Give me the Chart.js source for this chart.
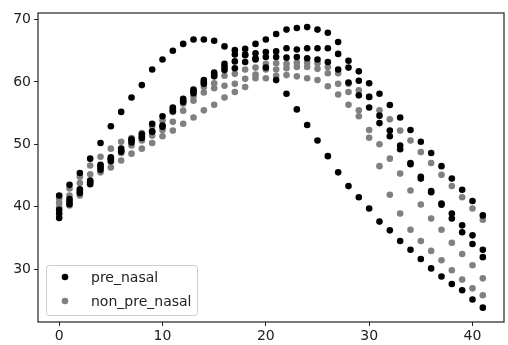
<!DOCTYPE html>
<html lang="en">
<head>
    <meta charset="UTF-8">
    <title>pre_nasal vs non_pre_nasal</title>
    <script src="https://cdn.jsdelivr.net/npm/chart.js"></script>
    <style>
        body {
            margin: 0;
            background-color: #FFFFFF;
        }

        #wrap {
            position: relative;
            width: 508px;
            height: 345px;
        }
    </style>
</head>
<body>
    <div id="wrap"><canvas id="chart"></canvas></div>

    <script>
        // time frames (x) and axis ticks
        const frames = [0, 1, 2, 3, 4, 5, 6, 7, 8, 9, 10, 11, 12, 13, 14, 15, 16, 17, 18, 19, 20,
            21, 22, 23, 24, 25, 26, 27, 28, 29, 30, 31, 32, 33, 34, 35, 36, 37, 38, 39, 40, 41];
        const xTicks = [0, 10, 20, 30, 40];
        const yTicks = [30, 40, 50, 60, 70];
        const seriesLabels = ['pre_nasal', 'non_pre_nasal'];

        // pre_nasal tracks
        const preNasalA = [41.8, 43.5, 45.4, 47.7, 50.2, 52.9, 55.2, 57.5, 59.5, 62.0,
            63.6, 65.0, 66.1, 66.8, 66.8, 66.6, 65.7, 65.1, 64.4, 63.6,
            62.3, 60.3, 58.1, 55.6, 53.1, 50.6, 48.1, 45.5, 43.3, 41.5,
            39.7, 37.6, 36.2, 34.5, 33.1, 31.6, 30.1, 28.8, 27.6, 26.6,
            25.1, 23.8];
        const preNasalB = [39.5, 41.2, 42.8, 44.2, 46.7, 47.9, 49.3, 50.8, 51.6, 53.3,
            54.5, 55.9, 57.3, 58.8, 60.3, 61.5, 62.9, 64.4, 65.3, 66.1,
            66.8, 67.7, 68.4, 68.65, 68.8, 68.4, 67.9, 66.4, 63.4, 61.7,
            59.8, 58.1, 56.3, 54.3, 52.3, 50.4, 48.6, 46.5, 44.5, 42.7,
            40.9, 38.6];
        const preNasalC = [38.9, 40.8, 42.4, 43.9, 46.3, 47.6, 49.0, 50.6, 51.2, 52.1,
            53.0, 55.6, 57.0, 58.5, 60.0, 61.2, 62.4, 63.3, 64.3, 64.6,
            64.8, 64.9, 65.4, 65.2, 65.4, 65.4, 65.4, 64.5, 62.3, 60.2,
            57.6, 54.6, 52.2, 49.8, 47.0, 44.8, 42.5, 40.5, 38.9, 37.0,
            35.4, 33.1];
        const preNasalD = [38.2, 40.4, 42.2, 43.6, 45.9, 47.3, 48.8, 50.3, 51.0, 52.0,
            52.8, 55.3, 56.8, 58.2, 59.7, 60.9, 61.9, 62.2, 63.2, 63.8,
            64.0, 64.0, 63.9, 64.0, 63.8, 63.6, 63.2, 62.0, 59.9, 57.85,
            55.9, 53.4, 51.3, 49.2, 46.8, 44.5, 42.3, 40.3, 38.1, 35.9,
            34.0, 31.9];

        // non_pre_nasal tracks
        const nonPreNasalB = [41.3, 42.9, 44.8, 46.6, 48.0, 49.3, 50.4, 51.0, 51.8, 52.9,
            53.8, 55.2, 56.5, 57.7, 59.2, 59.8, 61.0, 61.3, 62.0, 62.3,
            62.9, 63.0, 62.9, 63.1, 63.1, 63.0, 62.4, 61.4, 59.7, 58.65,
            57.6, 55.45, 54.0, 52.2, 50.6, 48.75, 47.0, 45.1, 43.3, 41.5,
            39.7, 37.9];
        const nonPreNasalC = [40.6, 41.8, 43.8, 45.2, 46.6, 47.7, 48.6, 49.8, 50.6, 51.4,
            52.3, 53.6, 55.4, 57.0, 58.3, 59.0, 59.4, 59.7, 60.5, 61.2,
            62.0, 62.0, 62.2, 62.4, 62.4, 62.1, 61.4, 59.7, 58.4, 55.45,
            52.3, 50.0, 47.7, 45.3, 42.6, 40.35, 38.1, 36.3, 34.2, 32.4,
            30.6, 28.5];
        const nonPreNasalD = [39.9, 40.2, 41.8, 44.0, 45.5, 46.3, 47.4, 48.5, 49.3, 50.2,
            51.3, 52.2, 53.3, 54.3, 55.45, 56.35, 57.5, 58.4, 59.2, 60.6,
            60.6, 61.0, 61.1, 60.9, 60.6, 60.3, 59.3, 58.0, 56.35, 54.5,
            51.05, 46.5, 41.9, 38.9, 36.3, 34.5, 32.9, 31.4, 29.8, 28.3,
            26.9, 25.8];

        function toPoints(tracks) {
            const pts = [];
            tracks.forEach(track => {
                track.forEach((v, i) => pts.push({ x: frames[i], y: v }));
            });
            return pts;
        }

        const FONT = { family: 'DejaVu Sans', size: 14 };
        const INK = '#222222';

        // box around the axes + legend in the lower left corner
        const frameAndLegend = {
            id: 'frameAndLegend',
            afterDatasetsDraw(chart) {
                const { ctx, chartArea: a } = chart;
                ctx.save();
                ctx.strokeStyle = INK;
                ctx.lineWidth = 1.2;
                ctx.strokeRect(a.left, a.top, a.right - a.left, a.bottom - a.top);

                const bx = a.left + 8, bw = 151, bh = 50;
                const by = a.bottom - 7 - bh;
                ctx.beginPath();
                ctx.roundRect(bx + 0.5, by + 0.5, bw, bh, 3);
                ctx.fillStyle = 'rgba(255,255,255,0.8)';
                ctx.fill();
                ctx.strokeStyle = '#CCCCCC';
                ctx.lineWidth = 1;
                ctx.stroke();

                ctx.font = `${FONT.size}px ${FONT.family}`;
                ctx.textBaseline = 'middle';
                chart.data.datasets.forEach((ds, i) => {
                    const y = by + 12 + i * 24;
                    ctx.beginPath();
                    ctx.arc(bx + 19, y, 3.3, 0, Math.PI * 2);
                    ctx.fillStyle = ds.backgroundColor;
                    ctx.fill();
                    ctx.fillStyle = INK;
                    ctx.fillText(ds.label, bx + 45, y + 1);
                });
                ctx.restore();
            }
        };

        new Chart(document.getElementById('chart'), {
            type: 'scatter',
            data: {
                datasets: [{
                    label: seriesLabels[0],
                    data: toPoints([preNasalA, preNasalB, preNasalC, preNasalD]),
                    backgroundColor: '#000000',
                    borderWidth: 0,
                    pointRadius: 3.3
                }, {
                    label: seriesLabels[1],
                    data: toPoints([nonPreNasalB, nonPreNasalC, nonPreNasalD]),
                    backgroundColor: '#808080',
                    borderWidth: 0,
                    pointRadius: 3.3
                }]
            },
            options: {
                responsive: true,
                maintainAspectRatio: false,
                animation: false,
                layout: { padding: { top: 13, right: 3, left: 0, bottom: 0 } },
                plugins: {
                    legend: { display: false },
                    tooltip: { enabled: false }
                },
                scales: {
                    x: {
                        type: 'linear',
                        min: -2.05,
                        max: 43.05,
                        afterBuildTicks: s => { s.ticks = xTicks.map(v => ({ value: v })); },
                        afterFit: s => { s.height = 23; },
                        border: { display: false },
                        grid: { drawOnChartArea: false, tickLength: 4, color: INK },
                        ticks: { color: INK, font: FONT, padding: 2, maxRotation: 0 }
                    },
                    y: {
                        min: 21.5,
                        max: 71.06,
                        afterBuildTicks: s => { s.ticks = yTicks.map(v => ({ value: v })); },
                        afterFit: s => { s.width = 38; },
                        border: { display: false },
                        grid: { drawOnChartArea: false, tickLength: 4, color: INK },
                        ticks: { color: INK, font: FONT, padding: 3 }
                    }
                }
            },
            plugins: [frameAndLegend]
        });
    </script>
</body>
</html>
